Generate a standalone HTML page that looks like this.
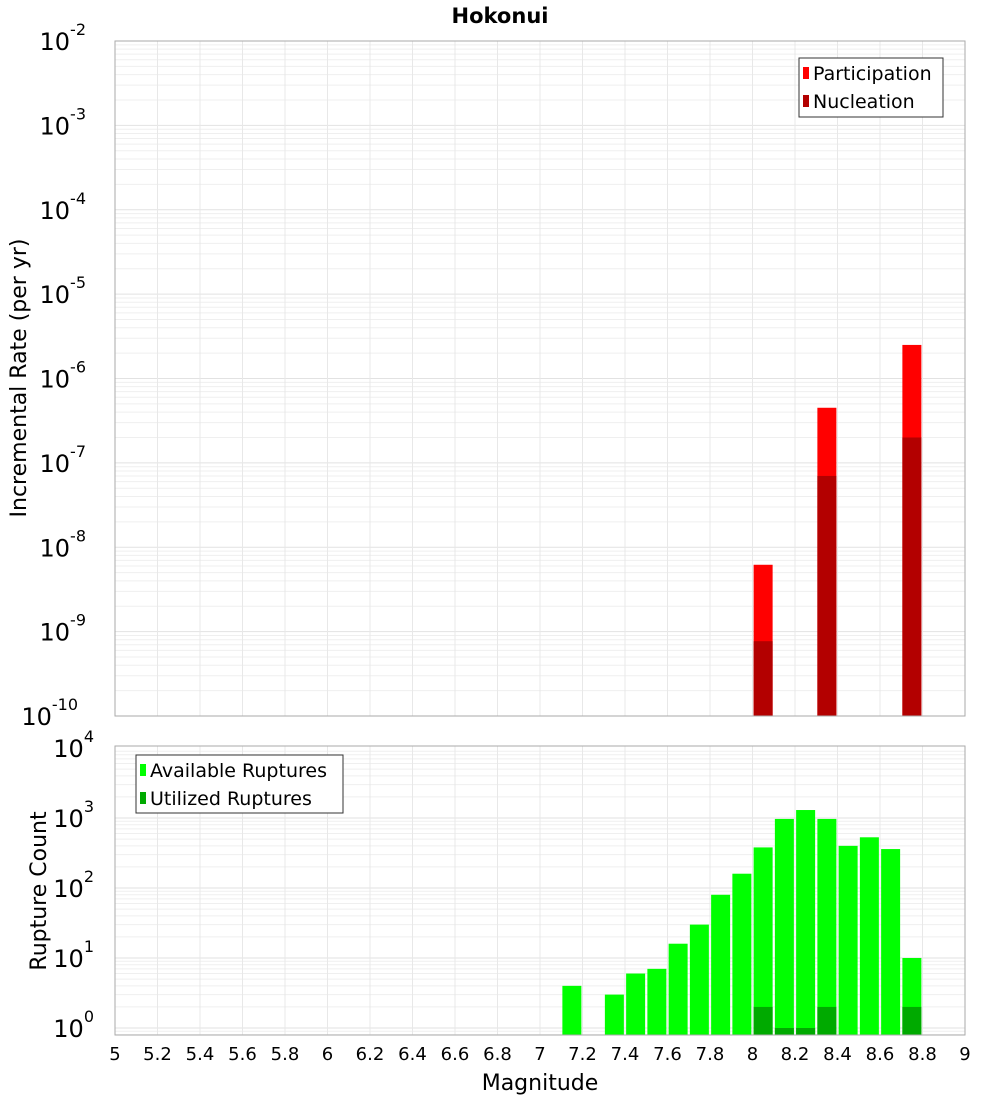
<!DOCTYPE html>
<html><head><meta charset="utf-8">
<style>
html,body{margin:0;padding:0;background:#fff;}
svg{display:block;font-family:"DejaVu Sans","Liberation Sans",sans-serif;}
</style></head>
<body>
<svg id="chart" width="1000" height="1100" viewBox="0 0 1000 1100" xmlns="http://www.w3.org/2000/svg">
<text x="500" y="23" text-anchor="middle" font-size="21" font-weight="bold">Hokonui</text>
<g id="top"></g>
<g id="bot"></g>
<text transform="translate(26,378) rotate(-90)" text-anchor="middle" font-size="22">Incremental Rate (per yr)</text>
<text transform="translate(46,891) rotate(-90)" text-anchor="middle" font-size="22">Rupture Count</text>
<text x="540" y="1090" text-anchor="middle" font-size="22">Magnitude</text>
</svg>
<script>
const NS="http://www.w3.org/2000/svg";
// data
const rateMags=[8.05,8.35,8.75];
const participation=[6.2e-9,4.5e-7,2.5e-6];
const nucleation=[7.7e-10,7e-8,2e-7];
const countMags=[7.15,7.35,7.45,7.55,7.65,7.75,7.85,7.95,8.05,8.15,8.25,8.35,8.45,8.55,8.65,8.75];
const available=[4,3,6,7,16,30,80,160,380,970,1300,970,400,530,360,10];
const utilMags=[8.05,8.15,8.25,8.35,8.75];
const utilized=[2,1,1,2,2];
const xTicks=["5","5.2","5.4","5.6","5.8","6","6.2","6.4","6.6","6.8","7","7.2","7.4","7.6","7.8","8","8.2","8.4","8.6","8.8","9"];
const topExps=[-2,-3,-4,-5,-6,-7,-8,-9,-10];
const botExps=[4,3,2,1,0];

const X0=115,X1=965;
const xs=m=>X0+(m-5)/4*(X1-X0);
const T0=41,T1=716;
const yTop=v=>T1-(Math.log10(v)+10)*(T1-T0)/8;
const B0=746,B1=1035;
const yBot=v=>1028-Math.log10(v)*70;
const BW=19;

function mk(p,tag,attrs){const e=document.createElementNS(NS,tag);for(const k in attrs)e.setAttribute(k,attrs[k]);p.appendChild(e);return e;}

function grid(g,yT,yB,yf,emin,emax){
  for(let e=emin;e<emax;e++){for(let k=1;k<10;k++){const y=yf(k*Math.pow(10,e));if(y<yT-0.5||y>yB+0.5)continue;
    const l=mk(g,'line',{x1:X0,x2:X1,y1:y,y2:y,stroke:k==1?'#e2e2e2':'#efefef','stroke-width':1});
    
    }}
  xTicks.forEach(t=>{const x=xs(parseFloat(t));
    const l=mk(g,'line',{x1:x,x2:x,y1:yT,y2:yB,stroke:'#e8e8e8','stroke-width':1});
    
    });
}
function ylabel(g,y,exp){
  const t=mk(g,'text',{x:103,y:y+9,'text-anchor':'end','font-size':24});
  
  
  t.appendChild(document.createTextNode('10'));
  const s=document.createElementNS(NS,'tspan');s.setAttribute('dy','-15');s.setAttribute('font-size','16');s.textContent=String(exp);t.appendChild(s);
  t.setAttribute('x',102-8*String(exp).length);
  t.setAttribute('text-anchor','end');
  // place exponent after
}
function legend(g,x,y,w,h,items){
  const r=mk(g,'rect',{x:x,y:y,width:w,height:h,fill:'#fff',stroke:'#333','stroke-width':1});
  
  
  items.forEach((it,i)=>{const cy=y+15+i*28;
    const s=mk(g,'rect',{x:x+4,y:cy-6,width:6,height:12,fill:it[1]});
    
    
    const t=mk(g,'text',{x:x+14,y:cy+7,'font-size':19});
    
    
    t.textContent=it[0];});
}

// top
const gt=document.getElementById('top');
grid(gt,T0,T1,yTop,-10,-2);
rateMags.forEach((m,i)=>{
  const x=xs(m)-BW/2;
  const b=mk(gt,'rect',{x:x,y:yTop(participation[i]),width:BW,height:T1-yTop(participation[i]),fill:'#ff0000'});
  
  
  const n=mk(gt,'rect',{x:x,y:yTop(nucleation[i]),width:BW,height:T1-yTop(nucleation[i]),fill:'#b30000'});
  
  
});
const tb=mk(gt,'rect',{x:X0,y:T0,width:X1-X0,height:T1-T0,fill:'none',stroke:'#aaa','stroke-width':1});


topExps.forEach(e=>ylabel(gt,yTop(Math.pow(10,e)),e));
legend(gt,799,58,144,59,[["Participation","#ff0000"],["Nucleation","#b30000"]]);

// bottom
const gb=document.getElementById('bot');
grid(gb,B0,B1,yBot,-1,4);
countMags.forEach((m,i)=>{
  const y=yBot(available[i]);
  const b=mk(gb,'rect',{x:xs(m)-BW/2,y:y,width:BW,height:B1-y,fill:'#00ff00'});
  
  
});
utilMags.forEach((m,i)=>{
  const y=yBot(utilized[i]);
  const b=mk(gb,'rect',{x:xs(m)-BW/2,y:y,width:BW,height:B1-y,fill:'#00aa00'});
  
  
});
const bb=mk(gb,'rect',{x:X0,y:B0,width:X1-X0,height:B1-B0,fill:'none',stroke:'#aaa','stroke-width':1});


botExps.forEach(e=>ylabel(gb,yBot(Math.pow(10,e)),e));
legend(gb,136,755,207,58,[["Available Ruptures","#00ff00"],["Utilized Ruptures","#00aa00"]]);
xTicks.forEach(t=>{
  const l=mk(gb,'text',{x:xs(parseFloat(t)),y:1060,'text-anchor':'middle','font-size':18});
  
  
  l.textContent=t;
});
</script>
</body></html>
